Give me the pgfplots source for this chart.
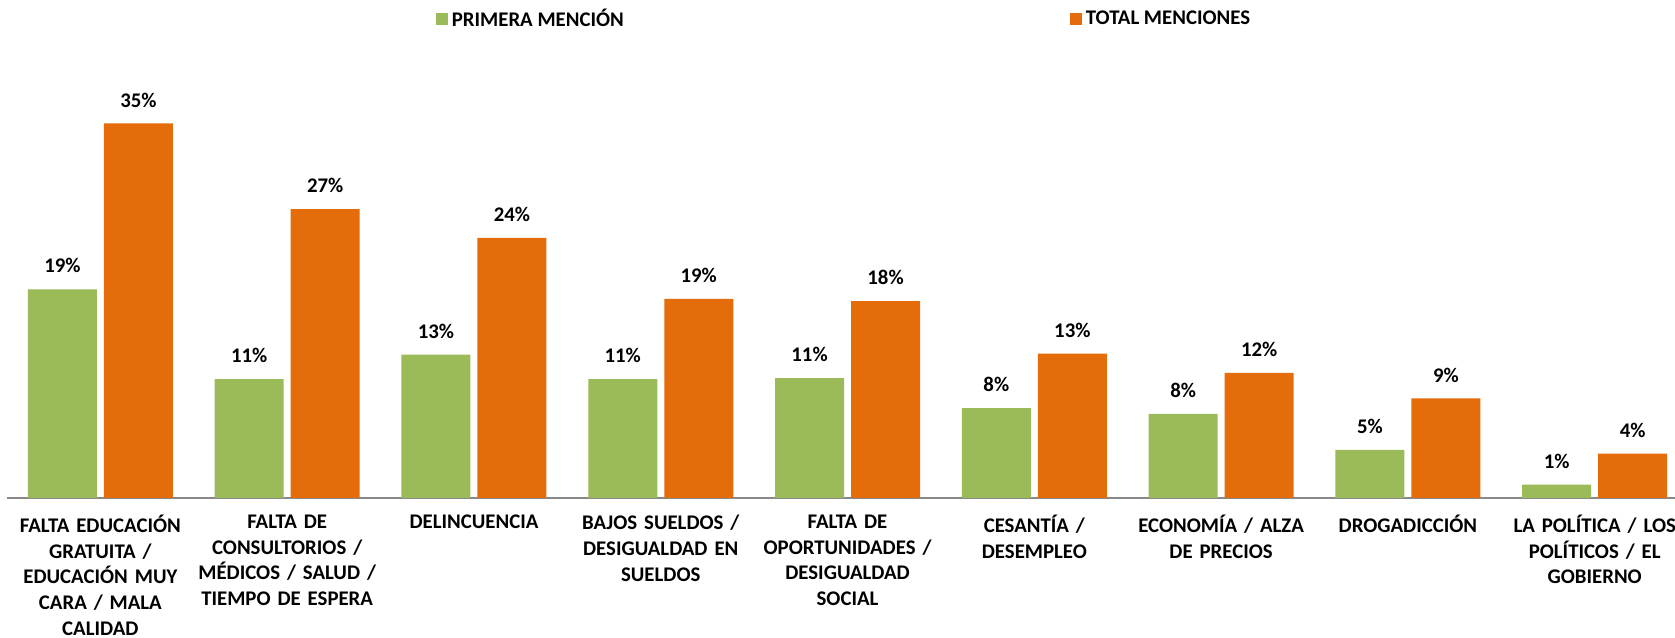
\documentclass[border=0pt]{standalone}
\usepackage{pgfplots}
\pgfplotsset{compat=1.18}
\usepackage{pgfplotstable}
\usepackage{fontspec}
\setmainfont{Carlito}
\definecolor{cgreen}{HTML}{9BBB59}
\definecolor{corange}{HTML}{E46C0A}
\definecolor{axgray}{HTML}{898989}
\pgfplotstableread{
x g gl o ol
0 19.5 19 35.0 35
1 11.1 11 27.0 27
2 13.4 13 24.3 24
3 11.1 11 18.6 19
4 11.2 11 18.4 18
5 8.4 8 13.5 13
6 7.85 8 11.7 12
7 4.5 5 9.3 9
8 1.25 1 4.15 4
}\data
\begin{document}
\begin{tikzpicture}
\begin{axis}[
  scale only axis,
  width=834pt, height=214pt,
  ymin=0, ymax=40,
  xmin=-0.5, xmax=8.43,
  axis x line=bottom, axis y line=none,
  x axis line style={draw=axgray, line width=1pt, -},
  ybar=3.5pt, bar width=34.5pt,
  xtick={0,...,8},
  xticklabels={
    {FALTA EDUCACIÓN\\GRATUITA /\\EDUCACIÓN MUY\\CARA / MALA\\CALIDAD},
    {FALTA DE\\CONSULTORIOS /\\MÉDICOS / SALUD /\\TIEMPO DE ESPERA},
    {DELINCUENCIA},
    {BAJOS SUELDOS /\\DESIGUALDAD EN\\SUELDOS},
    {FALTA DE\\OPORTUNIDADES /\\DESIGUALDAD\\SOCIAL},
    {CESANTÍA /\\DESEMPLEO},
    {ECONOMÍA / ALZA\\DE PRECIOS},
    {DROGADICCIÓN},
    {LA POLÍTICA / LOS\\POLÍTICOS / EL\\GOBIERNO}},
  major tick length=0pt,
  tick style={draw=none},
  xticklabel style={font=\fontsize{10.4}{12.85}\selectfont\bfseries, text width=110pt, align=center, anchor=north, yshift=-5pt},
  nodes near coords={\pgfplotspointmeta\%},
  point meta=explicit symbolic,
  nodes near coords style={font=\fontsize{10.4}{12}\selectfont\bfseries, yshift=4.6pt, text=black},
  legend style={at={(0.5024,1.119)}, anchor=center, draw=none, fill=none,
    legend columns=2, font=\fontsize{10.4}{12}\selectfont\bfseries,
    /tikz/every even column/.append style={column sep=221pt},
    legend cell align=left},
  legend image code/.code={\fill[#1] (-1pt,-3pt) rectangle (5pt,3pt);},
  clip=false,
]
\addplot[fill=cgreen, draw=none] table[x=x, y=g, meta=gl] {\data};
\addplot[fill=corange, draw=none] table[x=x, y=o, meta=ol] {\data};
\legend{PRIMERA MENCIÓN, TOTAL MENCIONES}
\coordinate (bl) at (rel axis cs:0,0);
\coordinate (tr) at (rel axis cs:1,1);
\end{axis}
\pgfresetboundingbox
\path ([xshift=-3.5pt,yshift=-70pt]bl) rectangle ([yshift=35pt]tr);
\end{tikzpicture}
\end{document}
